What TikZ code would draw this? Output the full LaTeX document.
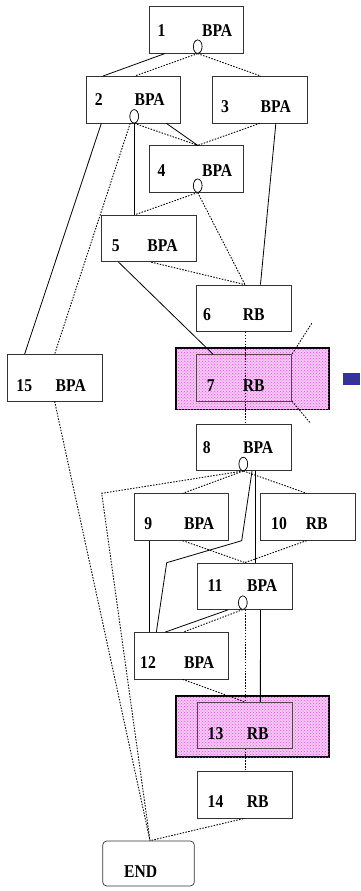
\documentclass[tikz,border=0pt]{standalone}
\usepackage{fontspec}
\setmainfont{Liberation Serif}
\newfontfamily\boxfont[FakeStretch=0.87]{Liberation Serif}
\usetikzlibrary{shapes.geometric,patterns,calc}
\definecolor{hlpink}{RGB}{246,200,246}
\definecolor{hldot}{RGB}{228,80,228}
\definecolor{barblue}{RGB}{51,51,153}

\begin{document}
\begin{tikzpicture}[x=1pt,y=-1pt,
  box/.style={draw=black!80, line width=0.7pt, fill=white, minimum width=94.4pt, minimum height=46.6pt, inner sep=0pt},
  hlbox/.style={draw=black, line width=1.8pt, fill=hlpink, postaction={pattern=crosshatch dots, pattern color=hldot}, minimum width=152.7pt, minimum height=61.5pt, inner sep=0pt},
  inbox/.style={draw=black!75!magenta, line width=0.7pt, minimum width=95pt, minimum height=46.4pt, inner sep=0pt},
  lbl/.style={font=\boxfont\bfseries\fontsize{18}{20}\selectfont, anchor=base, inner sep=0pt},
  port/.style={ellipse, draw=black, line width=0.6pt, fill=white, minimum width=8.6pt, minimum height=13.3pt, inner sep=0pt},
  solidedge/.style={line width=0.8pt, black},
  dotedge/.style={line width=0.9pt, black, dash pattern=on 1.5pt off 1.4pt},
]
\useasboundingbox (0,0) rectangle (360,891);

% boxes
\node[box] (b1) at (196.5,30) {};
\node[box] (b2) at (133.5,99.7) {};
\node[box] (b3) at (259.7,99.7) {};
\node[box] (b4) at (196.5,169) {};
\node[box] (b5) at (148.8,238.5) {};
\node[box] (b6) at (244,308.3) {};
\node[hlbox] (b7) at (252.3,378.8) {};
\node[inbox] (b7i) at (244.2,377.7) {};
\node[box] (b8) at (244,447.3) {};
\node[box] (b9) at (181.5,517) {};
\node[box, minimum width=95.3pt] (b10) at (307.7,517) {};
\node[box] (b11) at (245,586.2) {};
\node[box] (b12) at (181.5,655.7) {};
\node[hlbox, minimum height=61.3pt] (b13) at (252.3,726.7) {};
\node[inbox, minimum width=94.6pt, minimum height=46pt] (b13i) at (245,725.3) {};
\node[box] (b14) at (245,795) {};
\node[box, minimum width=95pt] (b15) at (54.8,377.7) {};
\node[box, minimum width=91.6pt, minimum height=45pt, rounded corners=4pt] (end) at (148.5,863.5) {};
\node[fill=barblue, minimum width=16.7pt, minimum height=11.4pt, inner sep=0pt] (bar) at (351.65,379) {};

% open ports on the lower edges
\node[port] (c1) at (197.7,46.65) {};
\node[port] (c2) at (134.2,116.35) {};
\node[port] (c4) at (197.7,185.65) {};
\node[port] (c8) at (243.3,464) {};
\node[port] (c11) at (242.8,602.65) {};

% free ends and bends
\coordinate (k7a) at (311.7,323.3);
\coordinate (k7b) at (310,422.7);
\coordinate (k8) at (101.7,493.3);
\coordinate (j8a) at (241.7,540.7);
\coordinate (j8b) at (166.7,562.7);

% connectors
\draw[solidedge] ([xshift=15.7pt]b1.south west) -- ([xshift=17pt]b2.north west);
\draw[dotedge] (c1.south) -- ([xshift=48.7pt]b2.north west);
\draw[dotedge] (c1.south) -- ([xshift=48.7pt]b3.north west);
\draw[solidedge] ([xshift=15.4pt]b2.south west) -- ([xshift=17.7pt]b15.north west);
\draw[dotedge] ([xshift=-4pt]c2.south) -- ([xshift=47.7pt]b15.north west);
\draw[solidedge] (c2.south) -- (c2.south |- b5.north);
\draw[solidedge] ([xshift=80.4pt]b2.south west) -- ([xshift=1.2pt]b4.north);
\draw[dotedge] (c2.south) -- ([xshift=1.2pt]b4.north);
\draw[dotedge] ([xshift=47.7pt]b3.south west) -- ([xshift=1.2pt]b4.north);
\draw[solidedge] ([xshift=63.7pt]b3.south west) -- ([xshift=64pt]b6.north west);
\draw[dotedge] (c4.south) -- ([xshift=33.3pt]b5.north west);
\draw[dotedge] (c4.south) -- ([xshift=1pt]b6.north);
\draw[dotedge] ([xshift=50pt]b5.south west) -- ([xshift=1pt]b6.north);
\draw[solidedge] ([xshift=17.3pt]b5.south west) -- ([xshift=16.6pt]b7i.north west);
\draw[dotedge] ([xshift=1pt]b6.south) -- ([xshift=1pt]b8.north);
\draw[dotedge] (k7a) -- (b7i.north east);
\draw[dotedge] (b7i.south east) -- (k7b);
\draw[dotedge] (c8.south) -- (k8) -- ([xshift=1.5pt]end.north);
\draw[dotedge] ([xshift=47.7pt]b15.south west) -- ([xshift=1.5pt]end.north);
\draw[dotedge] (c8.south) -- ([xshift=1.2pt]b9.north);
\draw[dotedge] (c8.south) -- ([xshift=-1pt]b10.north);
\draw[solidedge] ([xshift=55.6pt]b8.south west) -- (j8a) -- (j8b) -- ([xshift=22.4pt]b12.north west);
\draw[solidedge] ([xshift=59.3pt]b8.south west) -- ([xshift=58.3pt]b11.north west);
\draw[solidedge] ([xshift=15.7pt]b9.south west) -- ([xshift=15.7pt]b12.north west);
\draw[dotedge] ([xshift=1.2pt]b9.south) -- (b11.north);
\draw[dotedge] ([xshift=-1pt]b10.south) -- (b11.north);
\draw[solidedge] ([xshift=30.6pt]b11.south west) -- ([xshift=31.4pt]b12.north west);
\draw[dotedge] (c11.south) -- ([xshift=1.8pt]b12.north);
\draw[dotedge] (b13i.north |- c11.south) -- (b13i.north);
\draw[solidedge] ([xshift=63pt]b11.south west) -- ([xshift=63pt]b13i.north west);
\draw[dotedge] ([xshift=1.2pt]b12.south) -- (b13i.north);
\draw[dotedge] (b13i.south) -- (b14.north);
\draw[dotedge] ([xshift=-1.7pt]b14.south) -- ([xshift=1.5pt]end.north);

% redraw ports above the connectors
\node[port] at (c1) {};
\node[port] at (c2) {};
\node[port] at (c4) {};
\node[port] at (c8) {};
\node[port] at (c11) {};

% labels
\node[lbl] (l1n) at (161.5,37) {1};
\node[lbl] (l1t) at (217.2,37) {BPA};
\node[lbl] (l2n) at (98.7,105.3) {2};
\node[lbl] (l2t) at (149.7,105.3) {BPA};
\node[lbl] (l3n) at (225,112.7) {3};
\node[lbl] (l3t) at (275.8,112.7) {BPA};
\node[lbl] (l4n) at (161.5,176) {4};
\node[lbl] (l4t) at (217.2,176) {BPA};
\node[lbl] (l5n) at (115.8,251.7) {5};
\node[lbl] (l5t) at (162.5,251.7) {BPA};
\node[lbl] (l6n) at (207,320.7) {6};
\node[lbl] (l6t) at (253.7,320.7) {RB};
\node[lbl] (l7n) at (210.8,391.7) {7};
\node[lbl] (l7t) at (253.7,391.7) {RB};
\node[lbl] (l8n) at (206.8,453.3) {8};
\node[lbl] (l8t) at (258.2,453.3) {BPA};
\node[lbl] (l9n) at (148.3,529.3) {9};
\node[lbl] (l9t) at (199.2,529.3) {BPA};
\node[lbl] (l10n) at (279,529.3) {10};
\node[lbl] (l10t) at (316.7,529.3) {RB};
\node[lbl] (l11n) at (215,591.7) {11};
\node[lbl] (l11t) at (262.2,591.7) {BPA};
\node[lbl] (l12n) at (148,668.3) {12};
\node[lbl] (l12t) at (199.2,668.3) {BPA};
\node[lbl] (l13n) at (215.5,739) {13};
\node[lbl] (l13t) at (257.8,739) {RB};
\node[lbl] (l14n) at (215.5,807.3) {14};
\node[lbl] (l14t) at (257.8,807.3) {RB};
\node[lbl] (l15n) at (24.3,391) {15};
\node[lbl] (l15t) at (70.8,391) {BPA};
\node[lbl] (lend) at (140.7,877.3) {END};
\end{tikzpicture}
\end{document}
